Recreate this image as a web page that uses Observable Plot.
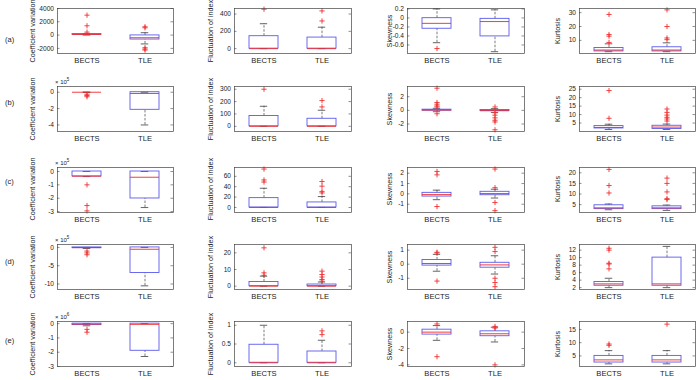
<!DOCTYPE html>
<html>
<head>
<meta charset="utf-8">
<script src="https://cdn.jsdelivr.net/npm/d3@7"></script>
<script src="https://cdn.jsdelivr.net/npm/@observablehq/plot@0.6"></script>
<style>
  body { margin: 0; background: #fff; }
  #chart { position: relative; width: 700px; height: 380px; overflow: hidden; background: #fff;
           font-family: "Liberation Sans", Arial, sans-serif; color: #222; }
  #chart svg { position: absolute; overflow: visible; }
  .rowlabel { position: absolute; font-size: 7.5px; line-height: 1; transform: translateY(-50%); }
  .ytitle { position: absolute; font-size: 7.2px; line-height: 1; white-space: nowrap;
            transform: translate(-50%, -50%) rotate(-90deg); }
  .expo { position: absolute; font-size: 6px; line-height: 1; white-space: nowrap; }
  .expo sup { font-size: 4.5px; vertical-align: 3px; }
</style>
</head>
<body>
<div id="chart"></div>
<script>
// ---- categories and labels ----
const groups = ["BECTS", "TLE"];
const rowLabels = ["(a)", "(b)", "(c)", "(d)", "(e)"];
const measureTitles = ["Coefficient variation", "Fluctuation of index", "Skewness", "Kurtosis"];
const cvExponent = [null, 5, 5, 5, 6];

// ---- box summaries, one entry per row: [lower whisker, q1, median, q3, upper whisker] ----
// Coefficient variation
const cvBECTS = [[0, 50, 100, 150, 200], [0, 0, 0, 0, 0], [-0.38, -0.37, -0.35, 0, 0], [-0.3, -0.2, -0.05, 0, 0], [-0.15, -0.1, -0.03, 0, 0]];
const cvTLE = [[-1330, -670, -400, -50, 360], [-4.0, -2.15, -0.15, 0, 0], [-2.7, -2.02, -0.43, 0, 0], [-10.5, -7, -0.5, 0, 0], [-2.3, -1.9, -0.05, 0, 0]];
const cvBECTSOut = [[3000, 1400, 450], [-0.25, -0.4, -0.55], [-1.0, -2.55, -2.95], [-1.0, -1.5, -2.0], [-0.4, -0.6]];
const cvTLEOut = [[1250, 1100, -1900, -2100, -2250], [], [], [], []];
const cvTicks = [[-2000, 0, 2000, 4000], [-4, -2, 0], [-3, -2, -1, 0], [-10, -5, 0], [-3, -2, -1, 0]];
const cvDomain = [[-2770, 4000], [-4.8, 0.7], [-3.07, 0.3], [-11.5, 0.8], [-3, 0.15]];

// Fluctuation of index
const flBECTS = [[0, 0, 0, 144, 288], [0, 0, 0, 83, 162], [0, 0, 0, 18, 37], [0, 0, 0, 2.5, 6], [0, 0, 0, 0.48, 1.0]];
const flTLE = [[0, 0, 0, 128, 248], [0, 0, 0, 61, 130], [0, 0, 0, 9.7, 21], [0, 0, 0, 1, 2.5], [0, 0, 0, 0.3, 0.6]];
const flBECTSOut = [[456], [300], [74, 53, 49], [23, 8, 6.5], []];
const flTLEOut = [[436, 320], [208, 157], [50, 41, 31, 28], [9, 7, 5.5, 4, 3], [0.85, 0.75]];
const flTicks = [[0, 200, 400], [0, 100, 200, 300], [0, 20, 40, 60], [0, 10, 20], [0, 0.5, 1]];
const flDomain = [[-56, 464], [-42, 322], [-9.7, 77], [-2, 25], [-0.1, 1.1]];

// Skewness
const skBECTS = [[-0.55, -0.24, -0.12, -0.005, 0.2], [-0.2, -0.05, 0.05, 0.1, 0.3], [-0.56, -0.26, -0.07, 0.1, 0.36], [-0.5, -0.1, 0.05, 0.3, 0.7], [-1, -0.3, 0, 0.3, 0.8]];
const skTLE = [[-0.75, -0.41, -0.08, -0.02, 0.18], [-0.3, -0.1, -0.05, 0.05, 0.25], [-0.4, -0.13, 0.03, 0.2, 0.45], [-0.7, -0.25, -0.05, 0.1, 0.6], [-1.2, -0.5, -0.2, 0.1, 0.6]];
const skBECTSOut = [[-0.68], [3.25, 1.15, 0.9, 0.65, 0.5, -0.5], [2.17, 1.84, -1.22], [0.85, 0.8, -1.2], [1, -3]];
const skTLEOut = [[], [0.5, -0.35, -0.7, -1.1, -1.45, -1.7, -2.85], [2.4, 0.6, -0.83, -1.62], [1.2, 0.9, -1.0, -1.3, -1.6], [0.7, 0.5, -4]];
const skTicks = [[-0.6, -0.4, -0.2, 0, 0.2], [-2, 0, 2], [-1, 0, 1, 2], [-1, 0, 1], [-4, -2, 0]];
const skDomain = [[-0.79, 0.21], [-3.1, 3.5], [-1.8, 2.55], [-1.8, 1.4], [-4.2, 1.3]];

// Kurtosis
const kuBECTS = [[1.8, 2, 3, 4.5, 7.5], [1.2, 1.8, 2.4, 3.2, 4.3], [2.6, 2.9, 3.5, 4.7, 5.3], [2, 2.5, 3, 3.5, 4.5], [2, 2.5, 3.5, 5, 7]];
const kuTLE = [[1.8, 2, 3, 5, 8.2], [1.2, 1.5, 2.6, 3.4, 4.4], [2.3, 2.9, 3.5, 4.2, 4.8], [2, 2.5, 3, 10, 13], [2, 2.5, 3.5, 5, 7]];
const kuBECTSOut = [[28.7, 14.2, 13, 8.5], [24.2, 7.8], [21.6, 14, 10.5], [12.5, 12, 8.5, 8.3, 7], [9.5, 9]];
const kuTLEOut = [[32, 20, 11.7, 10.5], [13.3, 11.3, 9.7, 8.4, 7.4, 6.2], [17.5, 15, 11, 7.8, 7.4], [], [17]];
const kuTicks = [[10, 20, 30], [5, 10, 15, 20, 25], [5, 10, 15, 20], [2, 4, 6, 8, 10, 12], [5, 10, 15]];
const kuDomain = [[0.5, 33], [0, 26.6], [1.3, 22.5], [1.5, 13.5], [1, 18]];

// ---- page geometry ----
const colLeft = [57, 234, 407, 579];
const colWidth = [116, 117, 117, 116];
const rowTop = [8, 86, 166.5, 244, 321];
const rowHeight = 45;
const titleX = [33, 211, 390, 558];
const rowLabelY = [40, 103, 182, 262, 341];

const frameColor = "#444";
const boxColor = "#5a5aee";
const medianColor = "#f02828";
const outlierColor = "#f03030";

// "+" marker for outliers
const plusSymbol = {
  draw(context, size) {
    const r = Math.sqrt(size / Math.PI);
    context.moveTo(-r, 0); context.lineTo(r, 0);
    context.moveTo(0, -r); context.lineTo(0, r);
  }
};

const measures = [
  {b: cvBECTS, t: cvTLE, bo: cvBECTSOut, to: cvTLEOut, ticks: cvTicks, domain: cvDomain},
  {b: flBECTS, t: flTLE, bo: flBECTSOut, to: flTLEOut, ticks: flTicks, domain: flDomain},
  {b: skBECTS, t: skTLE, bo: skBECTSOut, to: skTLEOut, ticks: skTicks, domain: skDomain},
  {b: kuBECTS, t: kuTLE, bo: kuBECTSOut, to: kuTLEOut, ticks: kuTicks, domain: kuDomain}
];

const mL = 30, mR = 4, mT = 4, mB = 16;

function boxPanel(stats, outs, ticks, domain, W, H) {
  const boxes = groups.map((g, i) => ({
    group: g, lo: stats[i][0], q1: stats[i][1], med: stats[i][2], q3: stats[i][3], hi: stats[i][4]
  }));
  const points = groups.flatMap((g, i) => outs[i].map(v => ({group: g, value: v})));
  const bw = W / 4;               // box width (band width)
  const capInset = bw * 0.37;     // whisker caps are narrower than the box
  const tickLen = 2.5;
  return Plot.plot({
    width: W + mL + mR,
    height: H + mT + mB,
    marginLeft: mL, marginRight: mR, marginTop: mT, marginBottom: mB,
    x: {type: "band", domain: groups, paddingInner: 0.5, paddingOuter: 0.25},
    y: {domain, ticks},
    style: {fontFamily: "'Liberation Sans', Arial, sans-serif", color: "#222", background: "transparent", overflow: "visible"},
    marks: [
      Plot.axisY({ticks, tickSize: 0, tickPadding: 3.5, tickFormat: d => String(d), fontSize: 6.6, label: null}),
      Plot.axisX({tickSize: 0, tickPadding: 4.5, fontSize: 7.6, label: null}),
      // inward ticks on both vertical sides of the axes box
      Plot.tickY(ticks, {y: d => d, insetRight: W - tickLen, stroke: frameColor, strokeWidth: 0.6}),
      Plot.tickY(ticks, {y: d => d, insetLeft: W - tickLen, stroke: frameColor, strokeWidth: 0.6}),
      // whiskers
      Plot.ruleX(boxes, {x: "group", y1: "q3", y2: "hi", stroke: "#222", strokeWidth: 0.6, strokeDasharray: "2.5,1.5"}),
      Plot.ruleX(boxes, {x: "group", y1: "lo", y2: "q1", stroke: "#222", strokeWidth: 0.6, strokeDasharray: "2.5,1.5"}),
      Plot.tickY(boxes, {x: "group", y: "hi", insetLeft: capInset, insetRight: capInset, stroke: "#222", strokeWidth: 0.7}),
      Plot.tickY(boxes, {x: "group", y: "lo", insetLeft: capInset, insetRight: capInset, stroke: "#222", strokeWidth: 0.7}),
      // boxes and medians
      Plot.barY(boxes, {x: "group", y1: "q1", y2: "q3", fill: "none", stroke: boxColor, strokeWidth: 0.9}),
      Plot.tickY(boxes, {x: "group", y: "med", stroke: medianColor, strokeWidth: 0.9}),
      // outliers
      Plot.dot(points, {x: "group", y: "value", symbol: plusSymbol, r: 2.6, stroke: outlierColor, fill: "none", strokeWidth: 0.9}),
      Plot.frame({stroke: frameColor, strokeWidth: 0.7})
    ]
  });
}

const chart = document.getElementById("chart");

rowLabels.forEach((lab, r) => {
  const d = document.createElement("div");
  d.className = "rowlabel";
  d.style.left = "5px";
  d.style.top = rowLabelY[r] + "px";
  d.textContent = lab;
  chart.appendChild(d);

  measures.forEach((m, c) => {
    const W = colWidth[c], H = rowHeight;
    const svg = boxPanel([m.b[r], m.t[r]], [m.bo[r], m.to[r]], m.ticks[r], m.domain[r], W, H);
    svg.style.left = (colLeft[c] - mL) + "px";
    svg.style.top = (rowTop[r] - mT) + "px";
    chart.appendChild(svg);

    const t = document.createElement("div");
    t.className = "ytitle";
    t.style.left = titleX[c] + "px";
    t.style.top = (rowTop[r] + H / 2) + "px";
    t.textContent = measureTitles[c];
    chart.appendChild(t);
  });

  if (cvExponent[r] != null) {
    const e = document.createElement("div");
    e.className = "expo";
    e.style.left = (colLeft[0] - 2) + "px";
    e.style.top = (rowTop[r] - 8) + "px";
    e.innerHTML = "\u00d7 10<sup>" + cvExponent[r] + "</sup>";
    chart.appendChild(e);
  }
});
</script>
</body>
</html>
